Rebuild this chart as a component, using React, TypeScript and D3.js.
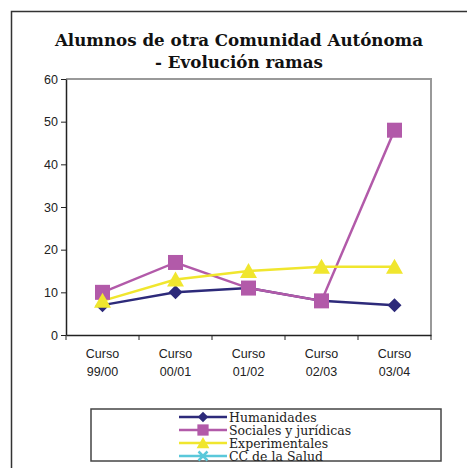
import React, { useEffect, useRef } from "react";
import * as d3 from "d3";

const categories = ["Curso 99/00", "Curso 00/01", "Curso 01/02", "Curso 02/03", "Curso 03/04"];
const humanidades = [7, 10, 11, 8, 7];
const sociales = [10, 17, 11, 8, 48];
const experimentales = [8, 13, 15, 16, 16];
const salud: (number | null)[] = [null, null, null, null, null];
const yTicks = [0, 10, 20, 30, 40, 50, 60];
const seriesNames = ["Humanidades", "Sociales y jurídicas", "Experimentales", "CC de la Salud"];

const W = 467;
const H = 468;

export default function App() {
  const ref = useRef<SVGSVGElement>(null);

  useEffect(() => {
    const svg = d3.select(ref.current);
    svg.selectAll("*").remove();

    // outer frame
    svg.append("path")
      .attr("d", `M11.5,${H} V11.5 H${W}`)
      .attr("fill", "none")
      .attr("stroke", "#333")
      .attr("stroke-width", 1.5);

    // title
    const title = svg.append("text")
      .attr("text-anchor", "middle")
      .attr("font-family", "DejaVu Serif")
      .attr("font-weight", "bold")
      .attr("font-size", 16.7)
      .attr("fill", "#111");
    title.append("tspan").attr("x", 239).attr("y", 46).text("Alumnos de otra Comunidad Autónoma");
    title.append("tspan").attr("x", 239).attr("y", 68).text("- Evolución ramas");

    const left = 66, right = 431, top = 79, bottom = 335;

    const x = d3.scaleBand().domain(categories).range([left, right]);
    const y = d3.scaleLinear().domain([0, 60]).range([bottom, top]);

    // plot frame top/right
    svg.append("path")
      .attr("d", `M${left},${top} H${right} V${bottom}`)
      .attr("fill", "none")
      .attr("stroke", "#999")
      .attr("stroke-width", 2);

    // y axis
    const yAxis = svg.append("g").attr("transform", `translate(${left},0)`)
      .call(d3.axisLeft(y).tickValues(yTicks).tickSize(5).tickSizeOuter(0));
    yAxis.select(".domain").attr("stroke", "#222").attr("stroke-width", 1.5);
    yAxis.selectAll("line").attr("stroke", "#222");
    yAxis.selectAll("text")
      .attr("font-family", "Liberation Sans")
      .attr("font-size", 12.5)
      .attr("fill", "#222")
      .attr("x", -8);

    // x axis
    const xAxis = svg.append("g").attr("transform", `translate(0,${bottom})`)
      .call(d3.axisBottom(x).tickSize(0).tickSizeOuter(0).tickFormat(() => ""));
    xAxis.select(".domain").attr("stroke", "#222").attr("stroke-width", 1.5);
    const edges = categories.map((c) => x(c)!).concat([right]);
    xAxis.selectAll("line.edge").data(edges).enter().append("line")
      .attr("x1", (d) => d).attr("x2", (d) => d)
      .attr("y1", 0).attr("y2", 5)
      .attr("stroke", "#222");
    const lab = svg.append("g")
      .attr("font-family", "Liberation Sans")
      .attr("font-size", 12.5)
      .attr("fill", "#222")
      .attr("text-anchor", "middle");
    categories.forEach((c) => {
      const [a, b] = c.split(" ");
      const cx = x(c)! + x.bandwidth() / 2;
      const t = lab.append("text");
      t.append("tspan").attr("x", cx).attr("y", 358).text(a);
      t.append("tspan").attr("x", cx).attr("y", 376).text(b);
    });

    const cx = (i: number) => x(categories[i])! + x.bandwidth() / 2;
    const line = d3.line<number | null>()
      .defined((d) => d != null)
      .x((_, i) => cx(i))
      .y((d) => y(d as number));

    const series = [
      { name: seriesNames[0], data: humanidades, color: "#2d2a7a", marker: "diamond" },
      { name: seriesNames[1], data: sociales, color: "#b25aa9", marker: "square" },
      { name: seriesNames[2], data: experimentales, color: "#f0e62e", marker: "triangle" },
      { name: seriesNames[3], data: salud, color: "#5ac8da", marker: "x" },
    ];

    const drawMarker = (g: any, type: string, px: number, py: number, color: string, s = 1) => {
      if (type === "diamond") {
        g.append("path").attr("d", `M${px},${py - 7 * s} L${px + 7 * s},${py} L${px},${py + 7 * s} L${px - 7 * s},${py}Z`).attr("fill", color);
      } else if (type === "square") {
        g.append("rect").attr("x", px - 7.5 * s).attr("y", py - 7.5 * s).attr("width", 15 * s).attr("height", 15 * s).attr("fill", color);
      } else if (type === "triangle") {
        g.append("path").attr("d", `M${px},${py - 8 * s} L${px + 8.5 * s},${py + 7 * s} L${px - 8.5 * s},${py + 7 * s}Z`).attr("fill", color);
      } else {
        g.append("path").attr("d", `M${px - 6 * s},${py - 6 * s} L${px + 6 * s},${py + 6 * s} M${px + 6 * s},${py - 6 * s} L${px - 6 * s},${py + 6 * s}`)
          .attr("stroke", color).attr("stroke-width", 2.5);
      }
    };

    series.forEach((s) => {
      svg.append("path")
        .attr("d", line(s.data))
        .attr("fill", "none")
        .attr("stroke", s.color)
        .attr("stroke-width", 2.5);
    });
    series.forEach((s) => {
      const g = svg.append("g");
      s.data.forEach((v, i) => {
        if (v != null) drawMarker(g, s.marker, cx(i), y(v), s.color);
      });
    });

    // legend
    svg.append("rect")
      .attr("x", 91).attr("y", 409).attr("width", 350).attr("height", 52)
      .attr("fill", "#fff").attr("stroke", "#444").attr("stroke-width", 1.5);
    const leg = svg.append("g");
    series.forEach((s, i) => {
      const ly = 417 + i * 13;
      leg.append("line").attr("x1", 179).attr("x2", 227).attr("y1", ly).attr("y2", ly)
        .attr("stroke", s.color).attr("stroke-width", 2.5);
      drawMarker(leg, s.marker, 203, ly, s.color, 0.75);
      leg.append("text").attr("x", 229).attr("y", ly + 4.5)
        .attr("font-family", "DejaVu Serif")
        .attr("font-size", 12.5)
        .attr("fill", "#222")
        .text(s.name);
    });
  }, []);

  return <svg ref={ref} width={W} height={H} style={{ position: "absolute", left: 0, top: 0 }} />;
}
